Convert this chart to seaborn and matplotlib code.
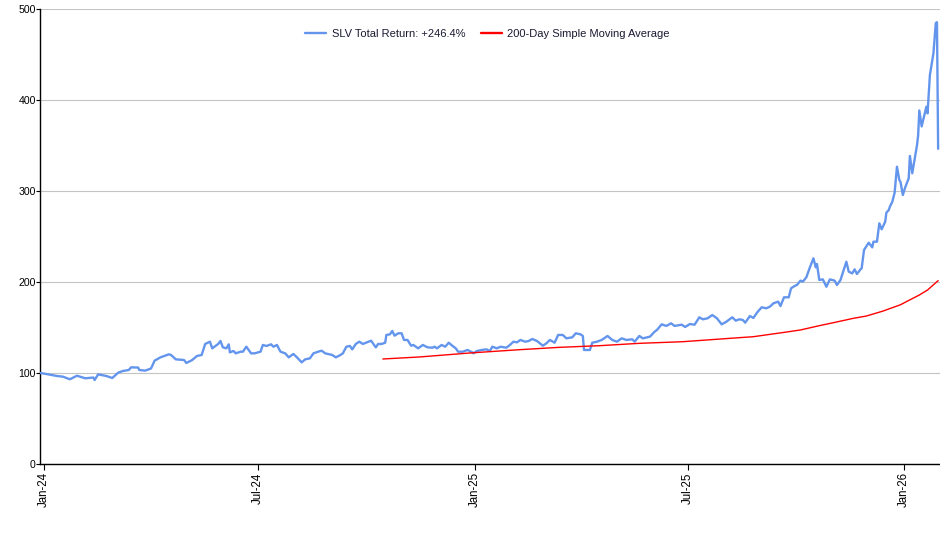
import matplotlib
matplotlib.use("Agg")
import matplotlib.pyplot as plt
import matplotlib.dates as mdates
import pandas as pd
import seaborn as sns

# ---- data ----
slv_dates = [
    "2023-12-29", "2024-01-03", "2024-01-12", "2024-01-17", "2024-01-23", "2024-01-29",
    "2024-02-05", "2024-02-12", "2024-02-13", "2024-02-16", "2024-02-23", "2024-02-28",
    "2024-03-04", "2024-03-08", "2024-03-13", "2024-03-15", "2024-03-21", "2024-03-22",
    "2024-03-27", "2024-04-01", "2024-04-04", "2024-04-09", "2024-04-16", "2024-04-18",
    "2024-04-22", "2024-04-29", "2024-05-01", "2024-05-06", "2024-05-10", "2024-05-14",
    "2024-05-17", "2024-05-21", "2024-05-23", "2024-05-28", "2024-05-30", "2024-06-01",
    "2024-06-04", "2024-06-06", "2024-06-07", "2024-06-10", "2024-06-12", "2024-06-16",
    "2024-06-18", "2024-06-21", "2024-06-25", "2024-06-28", "2024-07-03", "2024-07-05",
    "2024-07-08", "2024-07-12", "2024-07-14", "2024-07-17", "2024-07-20", "2024-07-24",
    "2024-07-27", "2024-07-31", "2024-08-03", "2024-08-07", "2024-08-10", "2024-08-14",
    "2024-08-17", "2024-08-21", "2024-08-24", "2024-08-27", "2024-09-02", "2024-09-05",
    "2024-09-09", "2024-09-11", "2024-09-14", "2024-09-17", "2024-09-19", "2024-09-22",
    "2024-09-25", "2024-09-28", "2024-10-05", "2024-10-09", "2024-10-11", "2024-10-14",
    "2024-10-17", "2024-10-18", "2024-10-21", "2024-10-23", "2024-10-25", "2024-10-28",
    "2024-10-31", "2024-11-02", "2024-11-05", "2024-11-08", "2024-11-10", "2024-11-14",
    "2024-11-18", "2024-11-22", "2024-11-26", "2024-11-28", "2024-11-30", "2024-12-04",
    "2024-12-07", "2024-12-10", "2024-12-13", "2024-12-16", "2024-12-18", "2024-12-22",
    "2024-12-26", "2024-12-30", "2024-12-31", "2025-01-03", "2025-01-07", "2025-01-11",
    "2025-01-14", "2025-01-16", "2025-01-20", "2025-01-23", "2025-01-28", "2025-01-31",
    "2025-02-03", "2025-02-06", "2025-02-09", "2025-02-13", "2025-02-16", "2025-02-19",
    "2025-02-23", "2025-02-28", "2025-03-03", "2025-03-06", "2025-03-10", "2025-03-13",
    "2025-03-17", "2025-03-20", "2025-03-25", "2025-03-28", "2025-04-01", "2025-04-03",
    "2025-04-04", "2025-04-09", "2025-04-11", "2025-04-15", "2025-04-19", "2025-04-24",
    "2025-04-28", "2025-05-02", "2025-05-06", "2025-05-10", "2025-05-15", "2025-05-17",
    "2025-05-21", "2025-05-24", "2025-05-30", "2025-06-03", "2025-06-05", "2025-06-09",
    "2025-06-13", "2025-06-17", "2025-06-20", "2025-06-23", "2025-06-26", "2025-06-29",
    "2025-07-03", "2025-07-07", "2025-07-11", "2025-07-14", "2025-07-18", "2025-07-22",
    "2025-07-26", "2025-07-30", "2025-08-03", "2025-08-08", "2025-08-11", "2025-08-14",
    "2025-08-17", "2025-08-19", "2025-08-23", "2025-08-26", "2025-08-29", "2025-09-02",
    "2025-09-06", "2025-09-09", "2025-09-12", "2025-09-16", "2025-09-18", "2025-09-21",
    "2025-09-25", "2025-09-27", "2025-09-30", "2025-10-02", "2025-10-05", "2025-10-07",
    "2025-10-10", "2025-10-13", "2025-10-16", "2025-10-18", "2025-10-19", "2025-10-21",
    "2025-10-24", "2025-10-27", "2025-10-30", "2025-11-03", "2025-11-05", "2025-11-08",
    "2025-11-10", "2025-11-13", "2025-11-15", "2025-11-18", "2025-11-20", "2025-11-22",
    "2025-11-25", "2025-11-26", "2025-11-28", "2025-12-02", "2025-12-05", "2025-12-06",
    "2025-12-09", "2025-12-11", "2025-12-13", "2025-12-16", "2025-12-17", "2025-12-19",
    "2025-12-20", "2025-12-22", "2025-12-24", "2025-12-26", "2025-12-28", "2025-12-29",
    "2025-12-31", "2026-01-02", "2026-01-05", "2026-01-06", "2026-01-08", "2026-01-12",
    "2026-01-13", "2026-01-14", "2026-01-16", "2026-01-20", "2026-01-21", "2026-01-23",
    "2026-01-26", "2026-01-28", "2026-01-29", "2026-01-30",
]
slv_values = [
    100.0, 98.9, 96.7, 96.0, 93.1, 97.0,
    94.2, 95.0, 92.3, 98.5, 96.7, 94.5,
    100.3, 102.2, 103.3, 106.2, 106.0, 103.3,
    102.6, 105.0, 113.6, 117.2, 120.5, 119.8,
    115.0, 114.3, 111.0, 114.3, 118.7, 119.8,
    131.9, 134.4, 127.1, 131.9, 135.2, 128.2,
    127.1, 131.5, 122.7, 124.2, 121.6, 123.4,
    123.4, 128.9, 121.6, 121.6, 123.4, 130.8,
    129.7, 131.5, 128.9, 130.8, 123.4, 121.6,
    117.2, 120.9, 117.2, 111.7, 115.0, 116.1,
    121.6, 123.4, 124.5, 121.6, 119.8, 117.2,
    119.8, 121.6, 128.9, 129.7, 126.0, 131.9,
    134.4, 131.9, 135.5, 128.2, 131.9, 131.9,
    133.3, 141.8, 142.5, 146.2, 141.0, 143.6,
    143.6, 136.3, 136.3, 130.0, 130.8, 127.1,
    130.8, 128.2, 127.8, 128.9, 127.1, 130.8,
    128.9, 133.3, 130.0, 127.1, 123.4, 123.4,
    125.3, 122.7, 121.6, 124.2, 125.3, 126.0,
    124.2, 128.9, 127.1, 128.9, 127.8, 130.8,
    134.4, 133.7, 136.3, 134.4, 135.2, 137.4,
    135.2, 130.0, 132.6, 136.3, 133.3, 141.8,
    141.8, 138.1, 139.2, 143.6, 142.5, 140.7,
    125.3, 125.3, 133.3, 134.4, 136.3, 140.7,
    136.3, 134.4, 138.1, 136.3, 137.0, 134.4,
    140.7, 138.1, 139.9, 145.4, 147.3, 153.5,
    151.7, 154.6, 151.7, 152.4, 153.1, 150.6,
    153.8, 153.1, 161.2, 159.0, 160.1, 163.7,
    160.1, 153.5, 156.4, 161.2, 157.5, 159.0,
    158.3, 155.3, 162.6, 160.5, 166.3, 172.2,
    171.1, 172.9, 176.6, 178.4, 173.6, 183.2,
    183.2, 193.1, 195.6, 196.7, 201.5, 200.4,
    205.2, 216.1, 226.0, 216.1, 219.8, 202.2,
    202.9, 194.8, 202.9, 201.5, 196.7, 202.2,
    210.3, 222.3, 211.4, 209.5, 213.9, 208.8,
    213.9, 215.0, 235.2, 243.2, 238.1, 244.3,
    244.3, 264.5, 257.9, 266.3, 276.2, 279.0,
    282.8, 288.0, 298.0, 326.7, 312.1, 310.0,
    295.6, 304.0, 314.0, 338.5, 319.5, 350.0,
    361.0, 388.5, 371.0, 392.6, 385.3, 427.5,
    451.3, 484.5, 485.5, 346.4,
]
sma_dates = [
    "2024-10-15", "2024-11-15", "2024-12-28", "2025-02-08", "2025-03-14", "2025-04-17",
    "2025-05-21", "2025-06-27", "2025-08-06", "2025-08-26", "2025-09-23", "2025-10-05",
    "2025-10-21", "2025-11-02", "2025-11-19", "2025-11-30", "2025-12-14", "2025-12-29",
    "2026-01-03", "2026-01-14", "2026-01-21", "2026-01-30",
]
sma_values = [
    115.4, 117.6, 122.0, 125.6, 128.2, 130.0,
    132.6, 134.4, 138.1, 139.9, 145.0, 147.3,
    152.0, 155.3, 160.1, 162.6, 168.0, 175.0,
    178.4, 185.7, 191.2, 201.5,
]
total_return_label = "SLV Total Return: +246.4%"
sma_label = "200-Day Simple Moving Average"
y_ticks = [0, 100, 200, 300, 400, 500]
x_tick_dates = ["2024-01-01", "2024-07-01", "2025-01-01", "2025-07-01", "2026-01-01"]

# ---- styling ----
sns.set_style("white")
plt.rcParams["font.family"] = ["Liberation Sans", "DejaVu Sans"]

slv = pd.DataFrame({"date": pd.to_datetime(slv_dates), "value": slv_values})
sma = pd.DataFrame({"date": pd.to_datetime(sma_dates), "value": sma_values})

fig = plt.figure(figsize=(9.4, 5.5), dpi=100)
ax = fig.add_axes([40 / 940, 86 / 550, 900 / 940, 455 / 550])

sns.lineplot(data=slv, x="date", y="value", ax=ax, color="#6495ED",
             linewidth=1.7, label=total_return_label, zorder=3)
sns.lineplot(data=sma, x="date", y="value", ax=ax, color="#FF0000",
             linewidth=1.0, label=sma_label, zorder=4)

ax.set_ylim(0, 500)
ax.set_xlim(pd.Timestamp("2023-12-28 14:00"), pd.Timestamp("2026-01-31 14:00"))
ax.set_yticks(y_ticks)
ax.set_xticks(pd.to_datetime(x_tick_dates))
ax.xaxis.set_major_formatter(mdates.DateFormatter("%b-%y"))
ax.set_xlabel("")
ax.set_ylabel("")

ax.yaxis.grid(True, color="#c4c4c4", linewidth=0.8)
ax.xaxis.grid(False)
ax.set_axisbelow(True)

for side in ["top", "right"]:
    ax.spines[side].set_visible(False)
for side in ["left", "bottom"]:
    ax.spines[side].set_visible(True)
    ax.spines[side].set_color("black")
    ax.spines[side].set_linewidth(1.0)

ax.tick_params(axis="y", which="major", left=True, length=3, width=0.8,
               color="black", pad=0, labelsize=7.6, labelcolor="black")
ax.tick_params(axis="x", which="major", bottom=True, length=4.5, width=0.8,
               color="black", pad=1.5, labelsize=8.3, labelcolor="black",
               labelrotation=90)

leg = ax.legend(loc="center", bbox_to_anchor=(0.497, 0.945), ncol=2,
                frameon=False, fontsize=8.0, handlelength=1.9,
                handletextpad=0.5, columnspacing=1.4)
for t in leg.get_texts():
    t.set_color("#1a1a33")
for h in leg.get_lines():
    h.set_linewidth(1.7)

fig.savefig("out.png", dpi=100)
